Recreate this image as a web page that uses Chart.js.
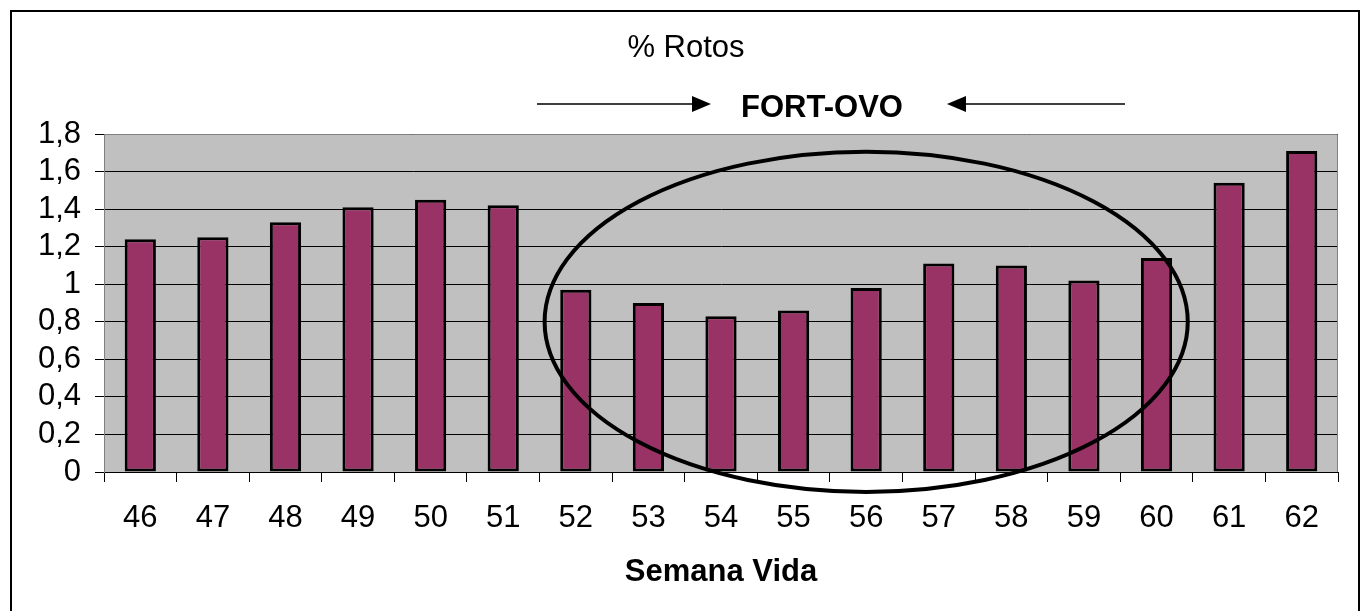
<!DOCTYPE html>
<html>
<head>
    <title>% Rotos - Semana Vida</title>
    <style>
        html, body {
            margin: 0;
            padding: 0;
            background: #ffffff;
        }
        #wrap {
            width: 1363px;
            height: 611px;
        }
    </style>
    <script src="https://cdn.jsdelivr.net/npm/chart.js"></script>
</head>
<body>
    <div id="wrap">
        <canvas id="rotosChart" width="1363" height="611"></canvas>
    </div>

    <script>
        // semanas de vida y % de huevos rotos
        const semanas = ['46', '47', '48', '49', '50', '51', '52', '53', '54',
                         '55', '56', '57', '58', '59', '60', '61', '62'];
        const rotos = [1.24, 1.25, 1.33, 1.41, 1.45, 1.42, 0.97, 0.90, 0.83,
                       0.86, 0.98, 1.11, 1.10, 1.02, 1.14, 1.54, 1.71];
        const yTicks = [0, 0.2, 0.4, 0.6, 0.8, 1, 1.2, 1.4, 1.6, 1.8];

        // periodo con FORT-OVO (elipse alrededor de estas semanas)
        const periodoCentro = '56';
        const periodoValor = 0.8;

        const FONT = '"Liberation Sans", Arial, sans-serif';
        const FS = 31;

        // fondo gris del area de trazado + marco exterior
        const backgroundPlugin = {
            id: 'fondo',
            beforeDraw(chart) {
                const { ctx, chartArea: a } = chart;
                ctx.save();
                ctx.fillStyle = '#ffffff';
                ctx.fillRect(0, 0, chart.width, chart.height);
                ctx.fillStyle = '#c0c0c0';
                ctx.fillRect(a.left, a.top, a.right - a.left, a.bottom - a.top);
                ctx.strokeStyle = '#000000';
                ctx.lineWidth = 2;
                ctx.beginPath();
                ctx.moveTo(11, chart.height + 2);
                ctx.lineTo(11, 11);
                ctx.lineTo(1359, 11);
                ctx.lineTo(1359, chart.height + 2);
                ctx.stroke();
                ctx.restore();
            },
            afterDatasetsDraw(chart) {
                const { ctx, chartArea: a } = chart;
                ctx.save();
                ctx.strokeStyle = '#808080';
                ctx.lineWidth = 1;
                ctx.beginPath();
                ctx.moveTo(a.left + 0.5, a.bottom);
                ctx.lineTo(a.left + 0.5, a.top + 0.5);
                ctx.lineTo(a.right - 0.5, a.top + 0.5);
                ctx.lineTo(a.right - 0.5, a.bottom);
                ctx.stroke();
                ctx.restore();
            }
        };

        // titulo, elipse y flechas "FORT-OVO"
        const annotPlugin = {
            id: 'fortovo',
            afterDraw(chart) {
                const { ctx } = chart;
                const x = chart.scales.x;
                const y = chart.scales.y;
                const catW = x.getPixelForValue(1) - x.getPixelForValue(0);
                const cx = x.getPixelForValue(semanas.indexOf(periodoCentro));
                const cy = y.getPixelForValue(periodoValor);
                const rx = catW * 4.43;
                const ry = y.getPixelForValue(0) - y.getPixelForValue(0.906);

                ctx.save();
                ctx.strokeStyle = '#000000';
                ctx.lineWidth = 4;
                ctx.beginPath();
                ctx.ellipse(cx, cy, rx, ry, 0, 0, Math.PI * 2);
                ctx.stroke();

                // flechas
                const ay = 104;
                ctx.lineWidth = 1.5;
                ctx.beginPath();
                ctx.moveTo(537, ay);
                ctx.lineTo(694, ay);
                ctx.moveTo(965, ay);
                ctx.lineTo(1125, ay);
                ctx.stroke();
                ctx.fillStyle = '#000000';
                ctx.beginPath();
                ctx.moveTo(711, ay);
                ctx.lineTo(692, ay - 8);
                ctx.lineTo(692, ay + 8);
                ctx.closePath();
                ctx.fill();
                ctx.beginPath();
                ctx.moveTo(947, ay);
                ctx.lineTo(966, ay - 8);
                ctx.lineTo(966, ay + 8);
                ctx.closePath();
                ctx.fill();

                ctx.textAlign = 'center';
                ctx.textBaseline = 'middle';
                ctx.font = 'bold ' + FS + 'px ' + FONT;
                ctx.fillText('FORT-OVO', 822, 108);
                ctx.font = FS + 'px ' + FONT;
                ctx.fillText('% Rotos', 686, 48);
                ctx.restore();
            }
        };

        const ctx = document.getElementById('rotosChart').getContext('2d');

        const chart = new Chart(ctx, {
            type: 'bar',
            data: {
                labels: semanas,
                datasets: [{
                    label: '% Rotos',
                    data: rotos,
                    backgroundColor: '#993366',
                    borderColor: '#000000',
                    borderWidth: 3,
                    borderSkipped: false,
                    categoryPercentage: 1,
                    barPercentage: 0.43
                }]
            },
            options: {
                responsive: false,
                animation: false,
                layout: {
                    padding: { left: 0, right: 25, top: 134, bottom: 0 }
                },
                plugins: {
                    legend: { display: false },
                    tooltip: { enabled: false },
                    title: { display: false }
                },
                scales: {
                    x: {
                        afterFit(scale) { scale.height = 139; },
                        grid: {
                            offset: true,
                            drawOnChartArea: false,
                            drawTicks: true,
                            tickLength: 10,
                            color: '#000000'
                        },
                        border: { color: '#000000', width: 1 },
                        ticks: {
                            color: '#000000',
                            padding: 18,
                            maxRotation: 0,
                            autoSkip: false,
                            font: { family: FONT, size: FS }
                        },
                        title: {
                            display: true,
                            text: 'Semana Vida',
                            color: '#000000',
                            font: { family: FONT, size: FS, weight: 'bold' },
                            padding: { top: 0, bottom: 20 }
                        }
                    },
                    y: {
                        min: 0,
                        max: 1.8,
                        afterFit(scale) { scale.width = 104; },
                        afterBuildTicks(scale) {
                            scale.ticks = yTicks.map(v => ({ value: v }));
                        },
                        grid: {
                            color: '#000000',
                            lineWidth: 1,
                            drawTicks: true,
                            tickLength: 9
                        },
                        border: { color: '#808080', width: 1 },
                        ticks: {
                            color: '#000000',
                            padding: 14,
                            autoSkip: false,
                            font: { family: FONT, size: FS },
                            callback: v => String(Math.round(v * 10) / 10).replace('.', ',')
                        }
                    }
                }
            },
            plugins: [backgroundPlugin, annotPlugin]
        });
    </script>
</body>
</html>
